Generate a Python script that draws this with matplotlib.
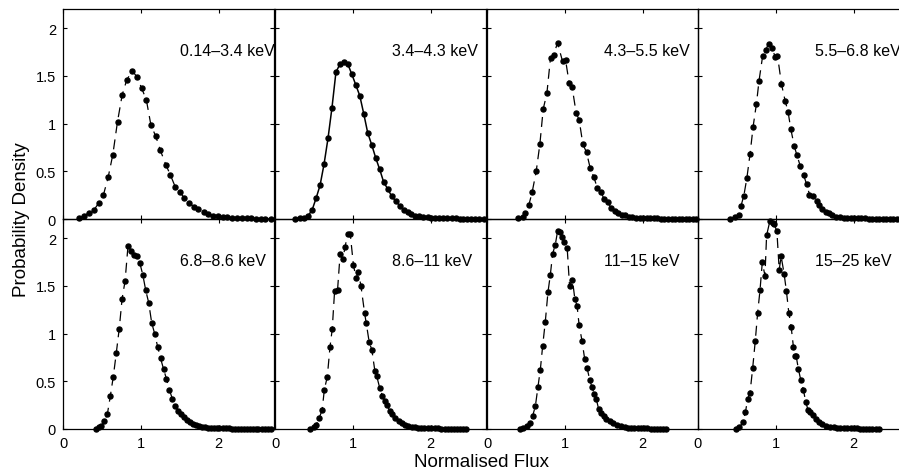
import matplotlib
matplotlib.use("Agg")
import matplotlib.pyplot as plt

plt.rcParams['font.family'] = ['Liberation Sans', 'DejaVu Sans']

labels = ["0.14\u20133.4 keV", "3.4\u20134.3 keV", "4.3\u20135.5 keV", "5.5\u20136.8 keV",
          "6.8\u20138.6 keV", "8.6\u201311 keV", "11\u201315 keV", "15\u201325 keV"]

x1 = [0.21, 0.27, 0.33, 0.40, 0.46, 0.52, 0.58, 0.64, 0.70, 0.76, 0.82, 0.89, 0.95, 1.01, 1.07, 1.13,
      1.19, 1.25, 1.32, 1.38, 1.44, 1.50, 1.56, 1.62, 1.68, 1.74, 1.81, 1.86, 1.93, 1.99,
      2.05, 2.11, 2.17, 2.23, 2.30, 2.36, 2.42, 2.48, 2.54, 2.60, 2.67]
y1 = [0.01, 0.03, 0.066, 0.098, 0.168, 0.255, 0.437, 0.675, 1.02, 1.30, 1.46, 1.55, 1.49, 1.37, 1.25, 0.98,
      0.87, 0.72, 0.57, 0.46, 0.34, 0.28, 0.22, 0.17, 0.13, 0.10, 0.07, 0.05, 0.035, 0.028,
      0.022, 0.018, 0.015, 0.012, 0.010, 0.008, 0.006, 0.005, 0.004, 0.003, 0.002]

x2 = [0.255, 0.319, 0.374, 0.426, 0.477, 0.528, 0.579, 0.630, 0.681, 0.732, 0.783, 0.834, 0.885, 0.936,
      0.987, 1.038, 1.089, 1.140, 1.191, 1.243, 1.294, 1.345, 1.396, 1.447, 1.498, 1.549, 1.600, 1.651,
      1.702, 1.753, 1.804, 1.855, 1.906,
      1.96, 2.01, 2.06, 2.11, 2.16, 2.21, 2.27, 2.32, 2.37, 2.42, 2.47, 2.52, 2.57, 2.62, 2.68]
y2 = [0.004, 0.007, 0.014, 0.035, 0.095, 0.218, 0.354, 0.575, 0.846, 1.168, 1.540, 1.621, 1.646, 1.621,
      1.516, 1.404, 1.291, 1.102, 0.902, 0.775, 0.639, 0.519, 0.386, 0.316, 0.239, 0.189, 0.140, 0.098,
      0.074, 0.053, 0.035, 0.028, 0.021,
      0.017, 0.014, 0.012, 0.010, 0.009, 0.008, 0.007, 0.006, 0.005, 0.004, 0.004, 0.003, 0.003, 0.002, 0.002]

x3 = [0.40, 0.466, 0.487, 0.538, 0.581, 0.632, 0.679, 0.722, 0.769, 0.816, 0.855, 0.906, 0.970, 1.009,
      1.056, 1.094, 1.145, 1.184, 1.231, 1.278, 1.325, 1.372, 1.415, 1.462, 1.504, 1.551, 1.594, 1.641,
      1.684, 1.731, 1.774, 1.821, 1.868,
      1.91, 1.96, 2.00, 2.05, 2.09, 2.14, 2.18, 2.23, 2.27, 2.32, 2.37, 2.41, 2.46, 2.50, 2.55, 2.60, 2.64, 2.69]
y3 = [0.007, 0.025, 0.06, 0.148, 0.285, 0.499, 0.784, 1.153, 1.315, 1.691, 1.719, 1.845, 1.652, 1.666,
      1.420, 1.378, 1.111, 1.037, 0.784, 0.699, 0.534, 0.439, 0.330, 0.288, 0.207, 0.183, 0.112, 0.088,
      0.060, 0.042, 0.042, 0.021, 0.018,
      0.015, 0.012, 0.010, 0.009, 0.008, 0.007, 0.006, 0.005, 0.004, 0.004, 0.003, 0.003, 0.002, 0.002, 0.002, 0.001, 0.001, 0.001]

x4 = [0.407, 0.479, 0.525, 0.551, 0.589, 0.627, 0.669, 0.708, 0.750, 0.784, 0.831, 0.869, 0.907, 0.953,
      0.992, 1.021, 1.072, 1.119, 1.157, 1.191, 1.237, 1.271, 1.314, 1.356, 1.394, 1.432, 1.479, 1.525,
      1.559, 1.597, 1.640, 1.678, 1.725, 1.775,
      1.82, 1.87, 1.91, 1.96, 2.00, 2.05, 2.09, 2.14, 2.19, 2.23, 2.28, 2.32, 2.37, 2.42, 2.46, 2.51, 2.55,
      2.60, 2.65, 2.69]
y4 = [0.004, 0.021, 0.046, 0.133, 0.246, 0.425, 0.684, 0.968, 1.204, 1.449, 1.712, 1.772, 1.835, 1.789,
      1.695, 1.712, 1.414, 1.239, 1.123, 0.947, 0.761, 0.667, 0.554, 0.460, 0.368, 0.256, 0.239, 0.186,
      0.147, 0.105, 0.077, 0.060, 0.039, 0.021,
      0.017, 0.014, 0.012, 0.010, 0.009, 0.008, 0.007, 0.006, 0.005, 0.005, 0.004, 0.004, 0.003, 0.003,
      0.002, 0.002, 0.002, 0.001, 0.001, 0.001]

x5 = [0.418, 0.460, 0.494, 0.532, 0.570, 0.608, 0.646, 0.684, 0.722, 0.759, 0.797, 0.835, 0.878, 0.911,
      0.954, 0.987, 1.025, 1.063, 1.101, 1.139, 1.177, 1.215, 1.253, 1.291, 1.329, 1.367, 1.405, 1.443,
      1.481, 1.519, 1.557, 1.595, 1.633, 1.671, 1.709, 1.747, 1.785, 1.823,
      1.86, 1.90, 1.94, 1.98, 2.01, 2.05, 2.09, 2.13, 2.17, 2.21, 2.25, 2.28, 2.32, 2.36, 2.40, 2.44,
      2.48, 2.51, 2.55, 2.59, 2.63, 2.67]
y5 = [0.003, 0.017, 0.031, 0.080, 0.157, 0.346, 0.549, 0.794, 1.049, 1.364, 1.549, 1.920, 1.867, 1.818,
      1.811, 1.738, 1.615, 1.451, 1.322, 1.112, 1.000, 0.864, 0.741, 0.629, 0.524, 0.409, 0.315, 0.245,
      0.192, 0.157, 0.129, 0.098, 0.070, 0.052, 0.042, 0.028, 0.024, 0.017,
      0.015, 0.013, 0.011, 0.010, 0.009, 0.008, 0.007, 0.006, 0.005, 0.005, 0.004, 0.004, 0.003, 0.003,
      0.003, 0.002, 0.002, 0.002, 0.001, 0.001, 0.001, 0.001]

x6 = [0.454, 0.496, 0.529, 0.567, 0.605, 0.634, 0.672, 0.706, 0.735, 0.765, 0.803, 0.836, 0.870, 0.899,
      0.933, 0.966, 1.008, 1.042, 1.071, 1.105, 1.151, 1.172, 1.210, 1.244, 1.282, 1.307, 1.345, 1.378,
      1.408, 1.433, 1.475, 1.508, 1.546, 1.588, 1.630, 1.672, 1.714, 1.756,
      1.80, 1.84, 1.88, 1.92, 1.97, 2.01, 2.05, 2.09, 2.13, 2.18, 2.22, 2.26, 2.30, 2.34, 2.38, 2.42, 2.45]
y6 = [0.003, 0.017, 0.042, 0.115, 0.196, 0.413, 0.549, 0.857, 1.045, 1.441, 1.451, 1.829, 1.776, 1.902,
      2.045, 2.045, 1.713, 1.584, 1.643, 1.493, 1.213, 1.108, 0.909, 0.829, 0.612, 0.552, 0.430, 0.350,
      0.297, 0.255, 0.192, 0.157, 0.115, 0.080, 0.059, 0.042, 0.028, 0.021,
      0.017, 0.014, 0.012, 0.010, 0.009, 0.008, 0.007, 0.006, 0.005, 0.004, 0.004, 0.003, 0.003, 0.002,
      0.002, 0.002, 0.001]

x7 = [0.426, 0.468, 0.511, 0.553, 0.587, 0.621, 0.655, 0.685, 0.715, 0.749, 0.783, 0.813, 0.843, 0.877,
      0.906, 0.940, 0.962, 0.991, 1.030, 1.060, 1.098, 1.128, 1.157, 1.183, 1.221, 1.255, 1.285, 1.319,
      1.349, 1.379, 1.404, 1.434, 1.464, 1.498, 1.532, 1.574, 1.617, 1.668, 1.719, 1.770,
      1.81, 1.85, 1.89, 1.94, 1.98, 2.02, 2.06, 2.10, 2.14, 2.18, 2.22, 2.26, 2.30]
y7 = [0.003, 0.010, 0.028, 0.059, 0.140, 0.238, 0.444, 0.622, 0.871, 1.126, 1.434, 1.612, 1.836, 1.930,
      2.070, 2.063, 2.010, 1.958, 1.895, 1.500, 1.559, 1.364, 1.290, 1.091, 0.920, 0.731, 0.640, 0.517,
      0.437, 0.367, 0.311, 0.210, 0.168, 0.133, 0.105, 0.080, 0.059, 0.042, 0.028, 0.017,
      0.014, 0.012, 0.010, 0.009, 0.008, 0.007, 0.006, 0.005, 0.004, 0.003, 0.003, 0.002, 0.002]

x8 = [0.489, 0.532, 0.574, 0.609, 0.638, 0.668, 0.702, 0.736, 0.766, 0.796, 0.826, 0.860, 0.881, 0.923,
      0.957, 0.979, 1.013, 1.043, 1.068, 1.106, 1.136, 1.166, 1.196, 1.226, 1.247, 1.260, 1.289, 1.319,
      1.353, 1.383, 1.413, 1.443, 1.477, 1.511, 1.553, 1.596, 1.647, 1.698, 1.749,
      1.79, 1.83, 1.87, 1.91, 1.96, 2.00, 2.04, 2.08, 2.12, 2.16, 2.20, 2.24, 2.28, 2.32]
y8 = [0.003, 0.017, 0.070, 0.175, 0.315, 0.378, 0.636, 0.927, 1.217, 1.451, 1.748, 1.605, 2.028, 2.178,
      2.161, 2.143, 2.073, 1.668, 1.808, 1.626, 1.441, 1.220, 1.073, 0.857, 0.769, 0.769, 0.629, 0.517,
      0.413, 0.287, 0.199, 0.175, 0.147, 0.105, 0.070, 0.052, 0.035, 0.024, 0.017,
      0.014, 0.012, 0.010, 0.009, 0.008, 0.007, 0.006, 0.005, 0.004, 0.003, 0.003, 0.002, 0.002, 0.001]

xs = [x1, x2, x3, x4, x5, x6, x7, x8]
ys = [y1, y2, y3, y4, y5, y6, y7, y8]
styles = ['--', '-', '--', '--', '--', '--', '--', '--']

yticks = [0, 0.5, 1, 1.5, 2]
yticklabels = ['0', '0.5', '1', '1.5', '2']
xticks = [0, 1, 2]
xticklabels = ['0', '1', '2']

W, H = 899, 477
fig = plt.figure(figsize=(W / 100, H / 100), dpi=100)

lefts = [63, 275, 487, 698]
pw, ph = 211, 210
tops = [10, 220]

for i in range(8):
    r, c = divmod(i, 4)
    left = lefts[c] / W
    bottom = (H - tops[r] - ph) / H
    ax = fig.add_axes([left, bottom, pw / W, ph / H])
    if styles[i] == '--':
        ax.plot(xs[i], ys[i], color='black', lw=0.9, linestyle=(0, (8, 5)),
                marker='o', markersize=3.6, markerfacecolor='black',
                markeredgecolor='black', clip_on=False, zorder=3)
    else:
        ax.plot(xs[i], ys[i], color='black', lw=1.1, linestyle='-',
                marker='o', markersize=3.6, markerfacecolor='black',
                markeredgecolor='black', clip_on=False, zorder=3)
    ax.set_xlim(0, 2.71)
    ax.set_ylim(0, 2.2)
    ax.set_xticks(xticks)
    ax.set_yticks(yticks)
    if c == 0:
        ax.set_yticklabels(yticklabels)
    else:
        ax.set_yticklabels([])
    if r == 1:
        ax.set_xticklabels(xticklabels)
    else:
        ax.set_xticklabels([])
    ax.tick_params(direction='in', length=3, width=0.8, top=True, right=True,
                   labelsize=10.5, pad=5)
    for s in ax.spines.values():
        s.set_linewidth(0.9)
    ax.patch.set_alpha(0)
    ax.text(1.5, 1.77, labels[i], fontsize=11.5, ha='left', va='center')

fig.text(22 / W, 1 - 220 / H, 'Probability Density', rotation=90, fontsize=13.5,
         ha='center', va='center')
fig.text(481 / W, 1 - 463 / H, 'Normalised Flux', fontsize=13.5, ha='center', va='center')

fig.savefig('out.png', dpi=100)
